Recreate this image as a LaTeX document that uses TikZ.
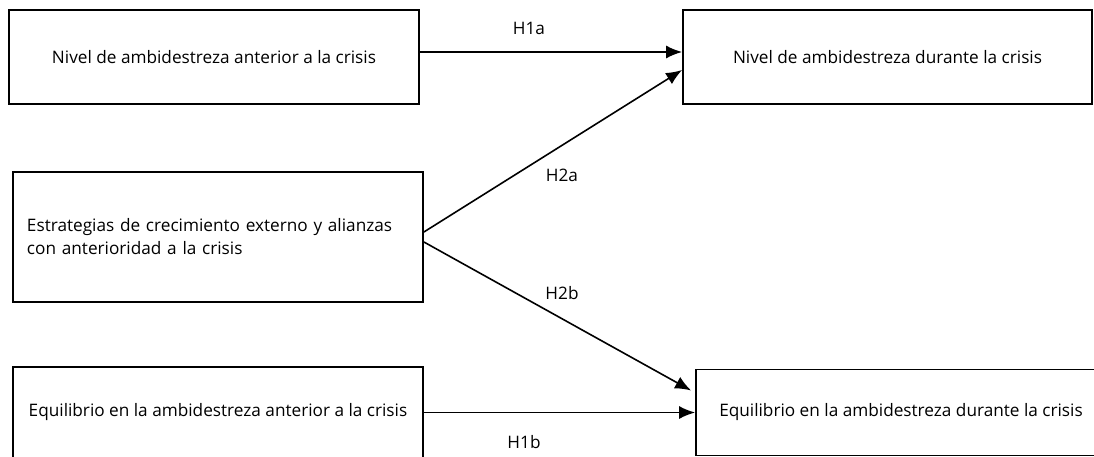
\documentclass[tikz,border=0pt]{standalone}
\usepackage{fontspec}
\setmainfont{Open Sans}
\usetikzlibrary{arrows.meta}
\tikzset{
  caja/.style={draw, rectangle, line width=1.8pt, minimum width=410pt, font=\fontsize{17.2}{23}\selectfont},
  hipo/.style={font=\fontsize{17.2}{23}\selectfont},
  flecha/.style={->, line width=1.6pt}
}
\begin{document}
\begin{tikzpicture}[>={Latex[length=16pt,width=13pt]}, x=1pt, y=-1pt]
  \useasboundingbox (0,0) rectangle (1094,457);
  %%% Cajas
  \node[caja, minimum height=94pt] (nivAnt) at (214,57) {Nivel de ambidestreza anterior a la crisis};
  \node[caja, minimum width=409pt, minimum height=94pt] (nivDur) at (887.5,57) {Nivel de ambidestreza durante la crisis};
  \node[caja, minimum height=130pt, text width=382pt, inner xsep=14pt, align=left] (estr) at (218,237)
    {Estrategias de crecimiento externo y alianzas\\con anterioridad a la crisis};
  \node[caja, minimum height=91pt] (eqAnt) at (218,412.5) {Equilibrio en la ambidestreza anterior a la crisis};
  \node[caja, minimum height=86pt] (eqDur) at (901,412.5) {Equilibrio en la ambidestreza durante la crisis};
  %%% Hipotesis
  \node[hipo] (h1a) at (529,28) {H1a};
  \node[hipo] (h2a) at (562,175) {H2a};
  \node[hipo] (h2b) at (562,293) {H2b};
  \node[hipo] (h1b) at (524,442) {H1b};
  %%% Flechas
  \draw[flecha] ([yshift=5pt]nivAnt.east) -- ([yshift=5pt]nivDur.west);
  \draw[flecha] ([yshift=5pt]estr.east) -- ([yshift=-13pt]nivDur.west);
  \draw[flecha] ([yshift=-5pt]estr.east) -- ([xshift=-4pt,yshift=22pt]eqDur.west);
  \draw[flecha] (eqAnt.east) -- (eqDur.west);
\end{tikzpicture}
\end{document}
